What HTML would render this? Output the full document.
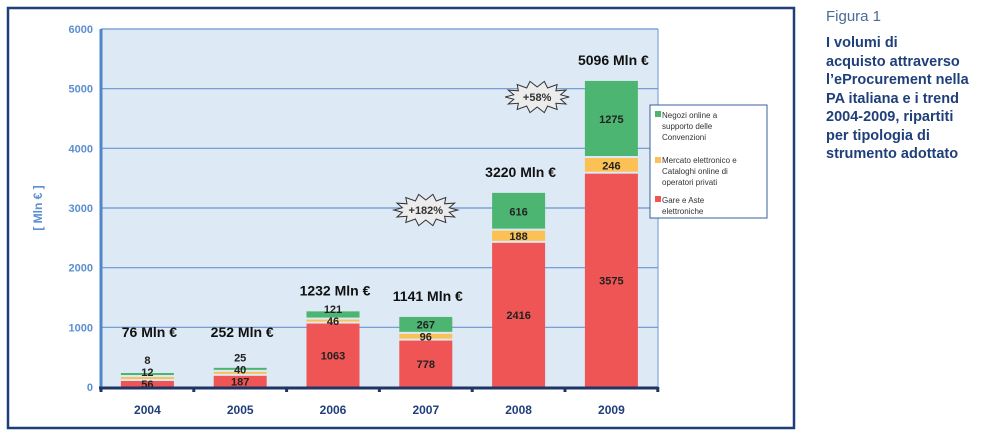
<!DOCTYPE html>
<html><head><meta charset="utf-8"><style>
html,body{margin:0;padding:0;background:#fff;width:1000px;height:436px;overflow:hidden}
svg{display:block;font-family:"Liberation Sans",sans-serif}
.cap{position:absolute;left:826px;font-family:"Liberation Sans",sans-serif;color:#1f3f7a}
</style></head><body>
<div style="position:relative;width:1000px;height:436px">
<svg id="chart" width="1000" height="436">
  <rect x="8" y="8" width="786" height="420" fill="#fff" stroke="#1f3f7a" stroke-width="2.5"/>
  <rect x="101" y="29" width="557" height="358" fill="#dde9f4"/>
  <line x1="658" y1="29" x2="658" y2="387" stroke="#6a96cf" stroke-width="1"/>
  <g id="grid"></g>
  <g id="bars"></g>
  <g id="labels"></g>
  <line x1="101" y1="29" x2="101" y2="388" stroke="#4f86c6" stroke-width="3"/>
  <line x1="99" y1="388" x2="658" y2="388" stroke="#1f3565" stroke-width="3"/>
  <text x="42" y="208" transform="rotate(-90 42 208)" text-anchor="middle" font-size="12" font-weight="bold" fill="#5b8fd0">[ Mln € ]</text>
  <g>
    <rect x="650" y="105" width="117" height="113" fill="#fff" stroke="#3a5f98" stroke-width="1"/>
    <rect x="655" y="111" width="6" height="6" fill="#4db572"/>
    <text font-size="8" fill="#333"><tspan x="662" y="118">Negozi online a</tspan><tspan x="662" y="129">supporto delle</tspan><tspan x="662" y="140">Convenzioni</tspan></text>
    <rect x="655" y="157" width="6" height="6" fill="#fcc155"/>
    <text font-size="8" fill="#333"><tspan x="662" y="163">Mercato elettronico e</tspan><tspan x="662" y="174">Cataloghi online di</tspan><tspan x="662" y="185">operatori privati</tspan></text>
    <rect x="655" y="196" width="6" height="6" fill="#ef5555"/>
    <text font-size="8" fill="#333"><tspan x="662" y="203">Gare e Aste</tspan><tspan x="662" y="214">elettroniche</tspan></text>
  </g>
  <g id="bursts"></g>
</svg>
<div class="cap" style="top:8px;font-size:15px;color:#4a6a9a">Figura 1</div>
<div class="cap" style="top:34px;font-size:14.5px;font-weight:bold;line-height:18.5px;width:175px">I volumi di<br>acquisto attraverso<br>l’eProcurement nella<br>PA italiana e i trend<br>2004-2009, ripartiti<br>per tipologia di<br>strumento adottato</div>
</div>
<script>
const categories = ["2004","2005","2006","2007","2008","2009"];
const gare = [56,187,1063,778,2416,3575];
const mercato = [12,40,46,96,188,246];
const negozi = [8,25,121,267,616,1275];
const totals = [76,252,1232,1141,3220,5096];
const yTicks = [0,1000,2000,3000,4000,5000,6000];
const growthLabels = [{between:3.5, value:"+182%", level:2966},{between:4.7, value:"+58%", level:4860}];

const NS="http://www.w3.org/2000/svg";
const x0=101, step=92.8, bw=53;
const yScale=v=>387-v*(358/6000);
const xCenter=i=>x0+step*(i+0.5);
function mk(tag,attrs,parent){const e=document.createElementNS(NS,tag);for(const k in attrs)e.setAttribute(k,attrs[k]);parent.appendChild(e);return e;}
const grid=document.getElementById('grid'),bars=document.getElementById('bars'),labels=document.getElementById('labels'),bursts=document.getElementById('bursts');

yTicks.forEach(t=>{
  const y=yScale(t);
  if(t>0){const l=mk('line',{x1:101,x2:658,y1:y,y2:y,stroke:'#6a96cf','stroke-width':1.2},grid);
  
  }
  const tx=mk('text',{x:93,y:y+4,'text-anchor':'end','font-size':11,'font-weight':'bold',fill:'#5b8fd0'},grid);
  tx.textContent=t;
  
  
});
for(let i=0;i<=categories.length;i++){
  const x=x0+step*i;
  mk('rect',{x:x-1.5,y:387,width:3,height:5,fill:'#1f3565'},grid);
}
const series=[[gare,'#ef5555','gare'],[mercato,'#fcc155','mercato'],[negozi,'#4db572','negozi']];
categories.forEach((c,i)=>{
  const cx=xCenter(i);let accPx=387;let lastLabel=999;
  series.forEach(([arr,col,nm],s)=>{
    const v=arr[i];
    const h=Math.max(v*(358/6000),s===0?6:3);
    const yb=accPx,yt=yb-h;
    const r=mk('rect',{x:cx-bw/2,y:yt,width:bw,height:Math.max(h-(s>0?1:0),1),fill:col},bars);
    
    
    let ly=Math.min((yt+yb)/2+4,390);
    if(ly>lastLabel-12)ly=lastLabel-12;
    lastLabel=ly;
    const t=mk('text',{x:cx,y:ly,'text-anchor':'middle','font-size':11,'font-weight':'bold',fill:'#222'},labels);
    t.textContent=v;
    
    
    accPx=yt-1;
  });
  const tt=mk('text',{x:cx+2,y:Math.min(yScale(totals[i])-18,337),'text-anchor':'middle','font-size':14,'font-weight':'bold',fill:'#111'},labels);
  tt.textContent=totals[i]+' Mln €';
  
  
  const xl=mk('text',{x:cx,y:414,'text-anchor':'middle','font-size':12,'font-weight':'bold',fill:'#1f3f7a'},labels);
  xl.textContent=c;
  
  
});
growthLabels.forEach(g=>{
  const cx=x0+step*g.between,cy=yScale(g.level);
  let pts=[];const n=14;
  for(let k=0;k<2*n;k++){const a=Math.PI*k/n;const rx=k%2?24:32,ry=k%2?10:16;pts.push((cx+rx*Math.cos(a)).toFixed(1)+','+(cy+ry*Math.sin(a)).toFixed(1));}
  const p=mk('polygon',{points:pts.join(' '),fill:'#ececec',stroke:'#333','stroke-width':1},bursts);
  
  
  const t=mk('text',{x:cx,y:cy+4,'text-anchor':'middle','font-size':11,'font-weight':'bold',fill:'#333'},bursts);
  t.textContent=g.value;
  
  
});
</script>
</body></html>
